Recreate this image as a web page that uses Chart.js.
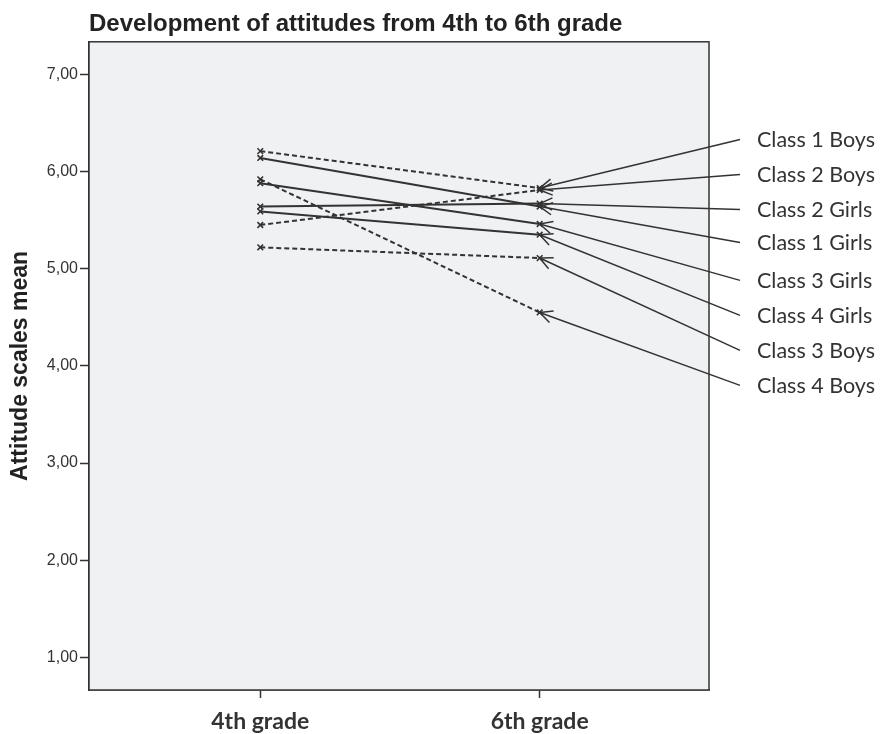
<!DOCTYPE html>
<html lang="en">
<head>
  <meta charset="UTF-8">
  <title>Development of attitudes from 4th to 6th grade</title>
  <style>
    body { margin: 0; background: #fff; }
    #wrap { width: 883px; height: 734px; }
  </style>
  <script src="https://cdn.jsdelivr.net/npm/chart.js"></script>
</head>
<body>
  <div id="wrap"><canvas id="chart" width="883" height="734"></canvas></div>
  <script>
    // groups, in the order of the callout labels on the right
    const groups = ['Class 1 Boys', 'Class 2 Boys', 'Class 2 Girls', 'Class 1 Girls',
                    'Class 3 Girls', 'Class 4 Girls', 'Class 3 Boys', 'Class 4 Boys'];
    const grade4 = [6.21, 5.45, 5.64, 6.14, 5.88, 5.59, 5.22, 5.92];
    const grade6 = [5.83, 5.81, 5.67, 5.64, 5.46, 5.35, 5.11, 4.55];
    const gradeLabels = ['4th grade', '6th grade'];
    const yTicks = [1, 2, 3, 4, 5, 6, 7];
    // where each callout label sits, in axis units
    const calloutAt = [6.33, 5.97, 5.61, 5.27, 4.88, 4.52, 4.16, 3.80];

    const ink = '#333333';

    const datasets = groups.map((g, i) => ({
      label: g,
      data: [{ x: 0, y: grade4[i] }, { x: 1, y: grade6[i] }],
      borderColor: ink,
      borderWidth: 2,
      borderDash: g.includes('Boys') ? [5, 3] : [],
      pointStyle: 'crossRot',
      pointRadius: 4,
      pointBorderWidth: 1.6,
      pointBorderColor: ink,
      fill: false,
      tension: 0
    }));

    // plot background + frame
    const frame = {
      id: 'frame',
      beforeDatasetsDraw(chart) {
        const { ctx, chartArea: a } = chart;
        ctx.save();
        ctx.fillStyle = '#f0f1f3';
        ctx.fillRect(a.left, a.top, a.right - a.left, a.bottom - a.top);
        ctx.restore();
      },
      afterDatasetsDraw(chart) {
        const { ctx, chartArea: a } = chart;
        ctx.save();
        ctx.strokeStyle = ink;
        ctx.lineWidth = 1.5;
        ctx.strokeRect(a.left, a.top, a.right - a.left, a.bottom - a.top);
        ctx.restore();
      }
    };

    // callout labels with arrows to the 6th grade ends
    const callouts = {
      id: 'callouts',
      afterDraw(chart) {
        const { ctx, scales: { x, y } } = chart;
        const x0 = x.right + 31, tx = x.right + 48;
        ctx.save();
        ctx.strokeStyle = ink;
        ctx.fillStyle = ink;
        ctx.lineWidth = 1.5;
        ctx.font = '21.5px Lato, "Open Sans", sans-serif';
        ctx.textBaseline = 'middle';
        groups.forEach((g, i) => {
          const ly = y.getPixelForValue(calloutAt[i]);
          const px = x.getPixelForValue(1), py = y.getPixelForValue(grade6[i]);
          ctx.beginPath();
          ctx.moveTo(x0, ly);
          ctx.lineTo(px, py);
          ctx.stroke();
          const ang = Math.atan2(ly - py, x0 - px);
          [-0.45, 0.45].forEach(d => {
            ctx.beginPath();
            ctx.moveTo(px, py);
            ctx.lineTo(px + 14 * Math.cos(ang + d), py + 14 * Math.sin(ang + d));
            ctx.stroke();
          });
          ctx.fillText(g, tx, ly + 1);
        });
        ctx.restore();
      }
    };

    new Chart(document.getElementById('chart'), {
      type: 'line',
      data: { datasets },
      options: {
        responsive: false,
        animation: false,
        layout: { padding: { left: 0, right: 174, top: 0, bottom: 0 } },
        plugins: {
          legend: { display: false },
          tooltip: { enabled: false },
          title: {
            display: true,
            text: 'Development of attitudes from 4th to 6th grade',
            align: 'start',
            fullSize: false,
            color: '#222',
            font: { family: '"Liberation Sans", Arial, sans-serif', size: 24, weight: 'bold' },
            padding: { top: 10, bottom: 3 }
          }
        },
        scales: {
          x: {
            type: 'linear',
            min: -0.613,
            max: 1.606,
            afterBuildTicks: axis => { axis.ticks = [{ value: 0 }, { value: 1 }]; },
            afterFit: axis => { axis.height = 44; },
            ticks: {
              callback: v => gradeLabels[v],
              color: ink,
              font: { family: 'Lato, "Open Sans", sans-serif', size: 23, weight: 'bold' },
              padding: 10,
              maxRotation: 0
            },
            grid: { drawOnChartArea: false, tickLength: 8, color: ink, tickWidth: 1.5 },
            border: { display: true, color: ink, width: 1.5 }
          },
          y: {
            min: 0.665,
            max: 7.335,
            afterBuildTicks: axis => { axis.ticks = yTicks.map(v => ({ value: v })); },
            afterFit: axis => { axis.width = 89; },
            ticks: {
              callback: v => v.toFixed(2).replace('.', ','),
              color: ink,
              font: { family: '"Liberation Sans", Arial, sans-serif', size: 16 },
              padding: 2
            },
            grid: { drawOnChartArea: false, tickLength: 9, color: ink, tickWidth: 1.5 },
            border: { display: true, color: ink, width: 1.5 },
            title: {
              display: true,
              text: 'Attitude scales mean',
              color: '#222',
              font: { family: '"Liberation Sans", Arial, sans-serif', size: 23, weight: 'bold' },
              padding: { top: 7, bottom: 0 }
            }
          }
        }
      },
      plugins: [frame, callouts]
    });
  </script>
</body>
</html>
